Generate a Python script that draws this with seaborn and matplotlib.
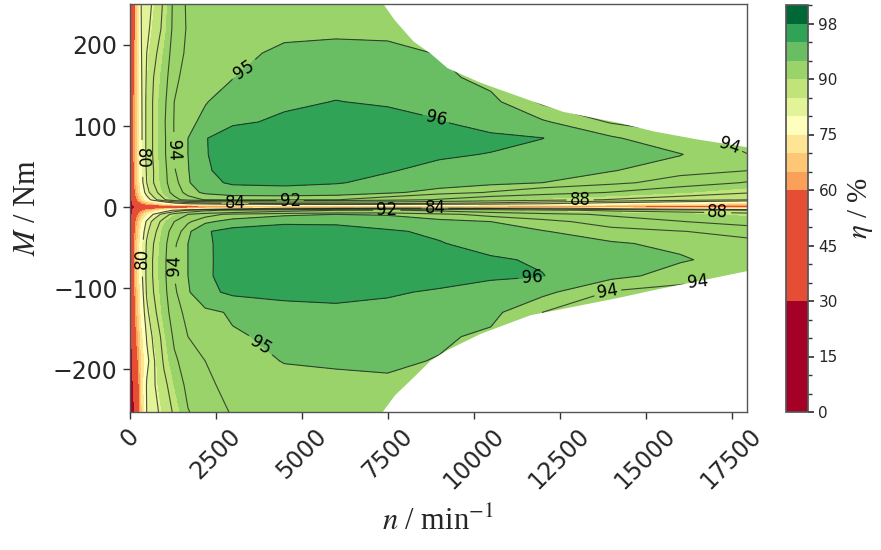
import numpy as np
import pandas as pd
import matplotlib
matplotlib.use("Agg")
import matplotlib.pyplot as plt
import seaborn as sns

# ---------------- data ----------------
speeds = [0, 100, 200, 350, 500, 700, 1000, 1300, 1700, 2200, 3000, 4500,
          6000, 7500, 9000, 10500, 12000, 14000, 16000, 18000]
torques = [255, 220, 190, 160, 130, 105, 85, 65, 45, 30, 18, 9, 4, 1.5, 0, -1.5,
           -4, -9, -18, -30, -45, -65, -85, -105, -130, -160, -190, -220, -255]

eta_p255 = [0, 42, 68, 81, 82.5, 84.5, 88.5, 92.8, 94.3, 94.5, 94.6, 94.7, 94.75, 94.7, 94.6, 94.5, 94.4, 94.3, 94.2, 94.1]
eta_p220 = [0, 46, 68, 80.5, 83, 85.5, 89, 92.9, 94.2, 94.6, 94.75, 94.8, 94.75, 94.7, 94.6, 94.5, 94.4, 94.3, 94.2, 94.1]
eta_p190 = [0, 50, 68, 80, 84, 87, 90.2, 93.3, 94.3, 94.6, 94.8, 95.15, 95.35, 95.3, 94.95, 94.6, 94.4, 94.3, 94.2, 94.1]
eta_p160 = [0, 54, 68, 79.8, 84.5, 88, 91, 93.7, 94.5, 94.8, 94.97, 95.5, 95.7, 95.6, 95.3, 94.6, 94.2, 94.0, 93.8, 93.6]
eta_p130 = [0, 57, 68.5, 79.6, 85, 88.5, 91.5, 94.0, 94.6, 94.95, 95.4, 95.85, 96.02, 95.9, 95.7, 95.3, 93.8, 93.5, 93.4, 93.3]
eta_p105 = [0, 57, 68.5, 79.5, 85, 88.5, 91.7, 94.1, 94.8, 95.2, 95.85, 96.15, 96.4, 96.3, 96.05, 95.6, 95.15, 93.9, 93.6, 93.5]
eta_p85 = [0, 57, 68, 79.5, 85, 88.5, 91.6, 94.1, 95.0, 95.95, 96.5, 96.7, 96.7, 96.6, 96.4, 96.2, 96.02, 95.15, 94.2, 93.8]
eta_p65 = [0, 57, 68, 79.5, 85, 88.5, 91.6, 94.1, 95.0, 95.95, 96.4, 96.6, 96.5, 96.3, 96.1, 95.97, 95.6, 95.3, 95.05, 94.0]
eta_p45 = [0, 56, 67.5, 79, 84.5, 88, 91.3, 93.9, 94.95, 95.9, 96.3, 96.4, 96.3, 96.05, 95.8, 95.5, 95.3, 95.05, 94.5, 94.0]
eta_p30 = [0, 55, 67, 78.5, 84, 88, 91.2, 93.6, 94.9, 95.7, 96.15, 96.2, 96.05, 95.8, 95.55, 95.3, 95.0, 94.4, 93.3, 91.8]
eta_p18 = [0, 50, 64, 76, 82.5, 86.5, 90.5, 93, 94.6, 95.2, 95.45, 95.6, 95.6, 95.2, 94.6, 93.9, 93.1, 91.9, 90.2, 88.3]
eta_p9 = [0, 44, 58, 70, 77, 82.5, 87.5, 91, 93.3, 94.1, 94.4, 94.3, 94.05, 93.2, 91.8, 90.4, 89.3, 87.8, 86, 84.1]
eta_p4 = [0, 35, 50, 58, 63, 67, 73, 77.5, 80, 81.5, 82.5, 83.5, 84, 83.5, 83, 82, 80, 77, 74, 70]
eta_p1 = [0, 25, 40, 45, 48, 52, 55, 58, 62, 66, 70, 72, 72, 72, 71, 70, 68, 65, 62, 58]
eta_0 = [0, 20, 30, 33, 35, 36, 37, 38, 38, 38, 40, 40, 42, 42, 42, 42, 42, 42, 42, 42]
eta_m1 = [0, 25, 40, 46, 50, 54, 58, 62, 66, 72, 76, 80, 83, 84, 84, 83, 81, 78, 75, 72]
eta_m4 = [0, 35, 50, 58, 63, 68, 76, 81, 84.5, 87, 89, 91, 92, 92.3, 91.5, 90.2, 88.8, 87.2, 86, 84.5]
eta_m9 = [0, 42, 56, 66, 74, 80.5, 86, 89.5, 92, 93.5, 94.3, 94.8, 95.0, 94.9, 94.3, 93.6, 92.8, 91.6, 90.6, 89.5]
eta_m18 = [0, 48, 62, 74, 81, 85.5, 89.5, 92, 93.8, 94.8, 95.4, 95.8, 95.8, 95.6, 95.3, 95.0, 94.5, 93.3, 92.1, 90.9]
eta_m30 = [0, 52, 65, 77, 83, 87, 90.8, 93.2, 94.8, 95.9, 96.35, 96.5, 96.4, 96.1, 95.85, 95.45, 95.05, 94.5, 94.05, 93.5]
eta_m45 = [0, 54, 67, 78.5, 84.5, 88, 91.3, 93.8, 95.0, 95.8, 96.5, 96.6, 96.5, 96.3, 96.05, 95.7, 95.4, 95.1, 94.8, 94.4]
eta_m65 = [0, 55, 67.5, 79, 85, 88.5, 91.5, 94, 95, 95.75, 96.6, 96.75, 96.7, 96.5, 96.3, 96.1, 95.9, 95.45, 95.1, 94.6]
eta_m85 = [0, 55, 67.5, 79, 85, 88.5, 91.5, 94, 95, 95.8, 96.5, 96.7, 96.7, 96.5, 96.35, 96.15, 96.03, 95.3, 94.6, 93.9]
eta_m105 = [0, 52, 66, 78, 84.5, 88, 91.3, 93.8, 94.9, 95.75, 96.2, 96.3, 96.25, 96.1, 95.9, 95.6, 95.3, 93.9, 93.5, 93.0]
eta_m130 = [0, 50, 64, 76.5, 83, 87, 90.8, 93.3, 94.5, 94.8, 95.1, 95.6, 95.8, 95.75, 95.6, 95.3, 94.0, 93.5, 93.3, 92.8]
eta_m160 = [0, 45, 60, 73, 80.5, 85, 89.5, 92.5, 94.0, 94.4, 94.92, 95.15, 95.35, 95.3, 95.15, 94.8, 94.3, 93.8, 93.3, 92.8]
eta_m190 = [0, 38, 55, 70, 78.5, 83.5, 88.5, 91.5, 93.3, 94.0, 94.5, 95.05, 95.1, 95.15, 94.95, 94.5, 94.2, 93.8, 93.3, 92.8]
eta_m220 = [0, 28, 48, 71, 80.5, 83.5, 87, 90, 92.8, 93.8, 94.3, 94.6, 94.8, 94.85, 94.7, 94.4, 94.2, 93.8, 93.3, 92.8]
eta_m255 = [0, 20, 42, 68, 80, 82.5, 85.5, 88.5, 91.8, 93.2, 94.1, 94.4, 94.6, 94.6, 94.5, 94.3, 94.1, 93.8, 93.3, 92.8]

# operating envelope (max / min torque vs speed)
env_speed = [0, 7300, 7700, 8240, 8740, 9230, 10190, 11640, 12600, 14260, 15220, 16500, 18000]
env_upper = [255, 255, 231, 205, 190, 172, 154, 132, 118, 104, 94, 84, 74]
env_lower = [-255, -255, -232, -210, -189, -176, -156, -133, -125, -111, -102, -91, -78]

fill_levels = [0, 5, 10, 15, 20, 25, 30, 35, 40, 45, 50, 55, 60, 65, 70,
               75, 80, 85, 90, 95, 96, 98, 100]
line_levels = [80, 84, 88, 92, 94, 95, 96]
cbar_ticks = [0, 15, 30, 45, 60, 75, 90, 98]

# ---------------- styles ----------------
layer_colors = (['#a50026'] * 6 + ['#e54e35'] * 6 +
                ['#fba058', '#fdc776', '#fee593', '#fefebd', '#e2f398',
                 '#c0e47a', '#99d369', '#69be63', '#31a356', '#006837'])

label_pos = [(400, 60), (330, -63), (1235, 70), (1235, -72), (17400, 70),
             (13900, -104), (16500, -83), (3300, 172), (3740, -177),
             (8900, 107), (11700, -88), (3070, 4.6), (8880, -1.5),
             (4670, 7.6), (7480, -3.7), (13100, 8.6), (17100, -6.3)]

rows = [eta_p255, eta_p220, eta_p190, eta_p160, eta_p130, eta_p105, eta_p85,
        eta_p65, eta_p45, eta_p30, eta_p18, eta_p9, eta_p4, eta_p1, eta_0,
        eta_m1, eta_m4, eta_m9, eta_m18, eta_m30, eta_m45, eta_m65, eta_m85,
        eta_m105, eta_m130, eta_m160, eta_m190, eta_m220, eta_m255]
df = pd.DataFrame(rows, index=torques, columns=speeds).sort_index()

sns.set_theme(style="ticks")
plt.rcParams["font.family"] = ["DejaVu Sans"]
plt.rcParams["mathtext.fontset"] = "stix"

fig = plt.figure(figsize=(8.81, 5.5), dpi=100)
ax = fig.add_axes([129.5 / 881, 1 - 412 / 550, (747 - 129.5) / 881, 408 / 550])

S, T = np.meshgrid(df.columns.values.astype(float), df.index.values.astype(float))
E = df.values

cf = ax.contourf(S, T, E, levels=fill_levels, colors=layer_colors)
cl = ax.contour(S, T, E, levels=line_levels, colors="k", linewidths=0.8, alpha=0.75)
ax.fill_between(env_speed, env_upper, 400, color="white", lw=0, zorder=2.5)
ax.fill_between(env_speed, env_lower, -400, color="white", lw=0, zorder=2.5)
txts = ax.clabel(cl, manual=label_pos, fmt="%d", fontsize=12, inline=True,
                 inline_spacing=3)
for t in txts:
    t.set_zorder(5)
    t.set_color("black")

ax.set_xlim(0, 17950)
ax.set_ylim(-253, 250.6)
ax.set_xticks(np.arange(0, 17501, 2500))
ax.set_yticks([-200, -100, 0, 100, 200])
ax.tick_params(axis="both", labelsize=17, length=5, width=1, color="#333333")
plt.setp(ax.get_xticklabels(), rotation=45, ha="center")
for s in ax.spines.values():
    s.set_color("#555555")
    s.set_linewidth(1.0)
ax.set_xlabel(r"$n$ / min$^{-1}$", fontfamily="Liberation Serif", fontsize=22, labelpad=9)
ax.set_ylabel(r"$M$ / Nm", fontfamily="Liberation Serif", fontsize=22, labelpad=8)

cax = fig.add_axes([786 / 881, 1 - 412 / 550, 22 / 881, 407 / 550])
cbar = fig.colorbar(cf, cax=cax)
cbar.set_ticks(cbar_ticks)
cbar.set_ticks(fill_levels, minor=True)
cbar.ax.tick_params(which="major", labelsize=11, length=4, color="#333333")
cbar.ax.tick_params(which="minor", length=3, color="#333333")
cbar.outline.set_edgecolor("#555555")
cbar.set_label(r"$\eta$ / %", fontfamily="Liberation Serif", fontsize=21, labelpad=6)

fig.savefig("out.png", dpi=100)
